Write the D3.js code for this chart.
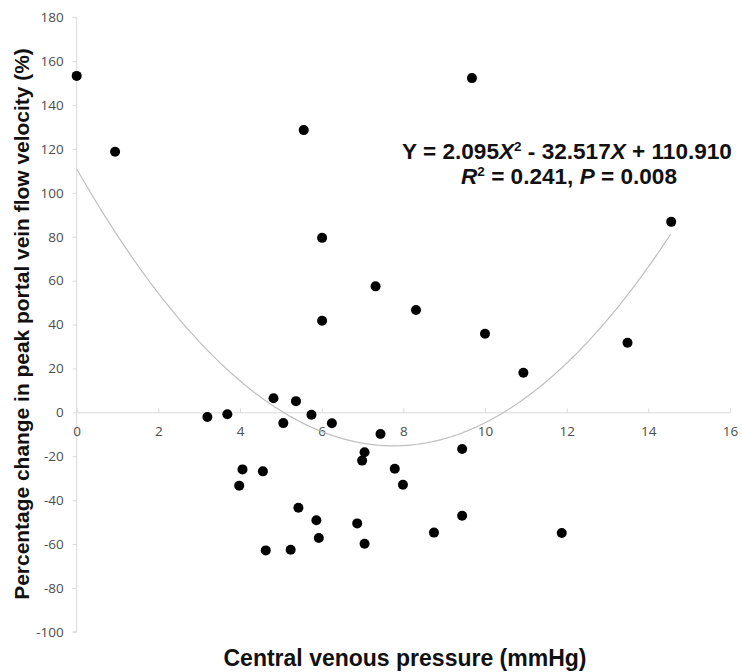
<!DOCTYPE html>
<html><head><meta charset="utf-8">
<script src="https://cdn.jsdelivr.net/npm/d3@7/dist/d3.min.js"></script>
<style>body{margin:0;background:#fff}svg{display:block}</style>
</head><body><svg id="c" width="742" height="672"></svg>
<script>
const cvp = [0, 0.94, 5.56, 6.01, 7.32, 8.31, 6.01, 9.68, 14.56, 10.0, 13.49, 10.94,
  3.20, 3.69, 4.82, 5.37, 5.06, 5.75, 6.25, 7.44, 7.05, 6.99, 9.44, 4.06, 4.56, 7.79,
  3.98, 7.99, 5.43, 5.87, 6.87, 9.44, 8.75, 5.93, 7.05, 4.63, 5.24, 11.88];
const change = [153.3, 118.7, 128.6, 79.5, 57.4, 46.6, 41.7, 152.3, 86.8, 35.8, 31.7, 18.0,
  -2.1, -0.9, 6.4, 5.1, -4.9, -1.1, -5.0, -9.9, -18.2, -22.0, -16.7, -26.0, -26.9, -25.7,
  -33.4, -33.0, -43.5, -49.2, -50.6, -47.1, -54.8, -57.3, -59.9, -62.9, -62.6, -55.0];
const coef = [2.095, -32.517, 110.910];
const xTicks = [0, 2, 4, 6, 8, 10, 12, 14, 16];
const yTicks = [180, 160, 140, 120, 100, 80, 60, 40, 20, 0, -20, -40, -60, -80, -100];
const xTitle = "Central venous pressure (mmHg)";
const yTitle = "Percentage change in peak portal vein flow velocity (%)";

const svg = d3.select("#c");
const x = d3.scaleLinear().domain([0, 16]).range([76.7, 730]);
const y = d3.scaleLinear().domain([-100, 180]).range([631.8, 17.3]);
const axisColor = "#d9d9d9", labColor = "#4d4d4d";
const tickFont = "'Open Sans', sans-serif";
const fmt = d => String(d);

// y axis
const ya = svg.append("g").attr("transform", `translate(${x(0)},0)`)
  .call(d3.axisLeft(y).tickValues(yTicks).tickSize(4).tickPadding(9).tickFormat(fmt));
ya.select(".domain").attr("stroke", axisColor).attr("d", `M-4,${y(180)}H0V${y(-100)}H-4`);
ya.selectAll(".tick line").attr("stroke", axisColor);
ya.selectAll(".tick text").attr("fill", labColor).style("font-family", tickFont).style("font-size", "13.5px");

// x axis at y=0
const xa = svg.append("g").attr("transform", `translate(0,${y(0)})`)
  .call(d3.axisBottom(x).tickValues(xTicks).tickSize(0).tickPadding(14).tickFormat(fmt));
xa.select(".domain").attr("stroke", axisColor);
xa.selectAll(".tick line").attr("stroke", axisColor).attr("y1", -4).attr("y2", 0);
xa.selectAll(".tick text").attr("fill", labColor).style("font-family", tickFont).style("font-size", "13.5px");

// regression curve
const fx = v => coef[0] * v * v + coef[1] * v + coef[2];
const xs = d3.range(0, 14.56 + 1e-9, 0.05);
svg.append("path").datum(xs)
  .attr("d", d3.line().x(v => x(v)).y(v => y(fx(v))))
  .attr("fill", "none").attr("stroke", "#bfbfbf").attr("stroke-width", 1.2);

// points
svg.append("g").selectAll("circle").data(cvp.map((v, i) => [v, change[i]])).join("circle")
  .attr("cx", d => x(d[0])).attr("cy", d => y(d[1])).attr("r", 5).attr("fill", "#000");

const bold = "'Liberation Sans', Arial, sans-serif";
function fit(t, w) {
  const L = t.node().getComputedTextLength();
  const fs = parseFloat(t.style("font-size"));
  t.style("font-size", (fs * w / L) + "px");
}

// x title
const xt = svg.append("text").attr("x", 405).attr("y", 666).attr("text-anchor", "middle")
  .style("font-family", bold).style("font-weight", "bold").style("font-size", "20px").attr("fill", "#111").text(xTitle);
fit(xt, 363);

// y title
const yt = svg.append("text").attr("transform", "translate(29,324) rotate(-90)").attr("text-anchor", "middle")
  .style("font-family", bold).style("font-weight", "bold").style("font-size", "18px").attr("fill", "#111").text(yTitle);
fit(yt, 552);

// equation
const e1 = svg.append("text").attr("x", 567).attr("y", 159.3).attr("text-anchor", "middle")
  .style("font-family", bold).style("font-weight", "bold").style("font-size", "20px").attr("fill", "#111");
e1.append("tspan").text("Y = " + coef[0].toFixed(3));
e1.append("tspan").style("font-style", "italic").text("X");
e1.append("tspan").attr("dy", -8).style("font-size", "0.6em").text("2");
e1.append("tspan").attr("dy", 8).text(" - " + Math.abs(coef[1]).toFixed(3));
e1.append("tspan").style("font-style", "italic").text("X");
e1.append("tspan").text(" + " + coef[2].toFixed(3));
fit(e1, 330);

const e2 = svg.append("text").attr("x", 569).attr("y", 184).attr("text-anchor", "middle")
  .style("font-family", bold).style("font-weight", "bold").attr("fill", "#111")
  .style("font-size", e1.style("font-size"));
e2.append("tspan").style("font-style", "italic").text("R");
e2.append("tspan").attr("dy", -8).style("font-size", "0.6em").text("2");
e2.append("tspan").attr("dy", 8).text(" = 0.241, ");
e2.append("tspan").style("font-style", "italic").text("P");
e2.append("tspan").text(" = 0.008");
</script></body></html>
